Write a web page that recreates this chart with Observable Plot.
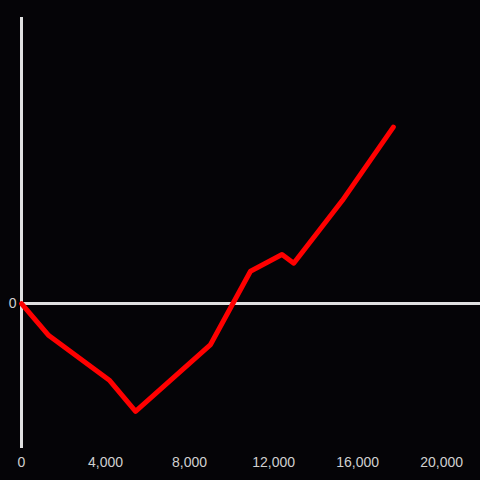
<!DOCTYPE html>
<html>
<head>
<meta charset="utf-8">
<script src="https://cdn.jsdelivr.net/npm/d3@7"></script>
<script src="https://cdn.jsdelivr.net/npm/@observablehq/plot@0.6"></script>
<style>
  html, body { margin: 0; padding: 0; background: #050407; }
  #chart svg { display: block; }
</style>
</head>
<body>
<div id="chart"></div>
<script>
const xValues = [0, 1300, 4200, 5430, 9000, 10900, 12400, 12960, 15270, 17700];
const yValues = [0, -336, -808, -1130, -430, 339, 514, 423, 1080, 1850];
const xTicks = [0, 4000, 8000, 12000, 16000, 20000];
const yTicks = [0];
const yDomain = [-1520, 3000];
const xDomain = [0, 21850];

const data = xValues.map((x, i) => ({x, y: yValues[i]}));

const chart = Plot.plot({
  width: 480,
  height: 480,
  marginLeft: 21,
  marginRight: 0,
  marginTop: 17,
  marginBottom: 32,
  style: {background: "#050407", color: "#d0d0d0", fontFamily: "Liberation Sans, sans-serif", fontSize: "14px"},
  x: {domain: xDomain, label: null},
  y: {domain: yDomain, label: null},
  marks: [
    Plot.ruleY([0], {stroke: "#e0e0e0", strokeWidth: 3}),
    Plot.ruleX([0], {y1: yDomain[0], y2: yDomain[1], stroke: "#e0e0e0", strokeWidth: 3}),
    Plot.line(data, {x: "x", y: "y", stroke: "#ff0000", strokeWidth: 5}),
    Plot.axisX({ticks: xTicks, tickSize: 0, tickPadding: 9, tickFormat: d3.format(","), fill: "#d0d0d0", fontSize: 14, label: null}),
    Plot.axisY({ticks: yTicks, tickSize: 0, tickPadding: 5, fill: "#d0d0d0", fontSize: 14, label: null})
  ]
});
document.getElementById("chart").appendChild(chart);
</script>
</body>
</html>
